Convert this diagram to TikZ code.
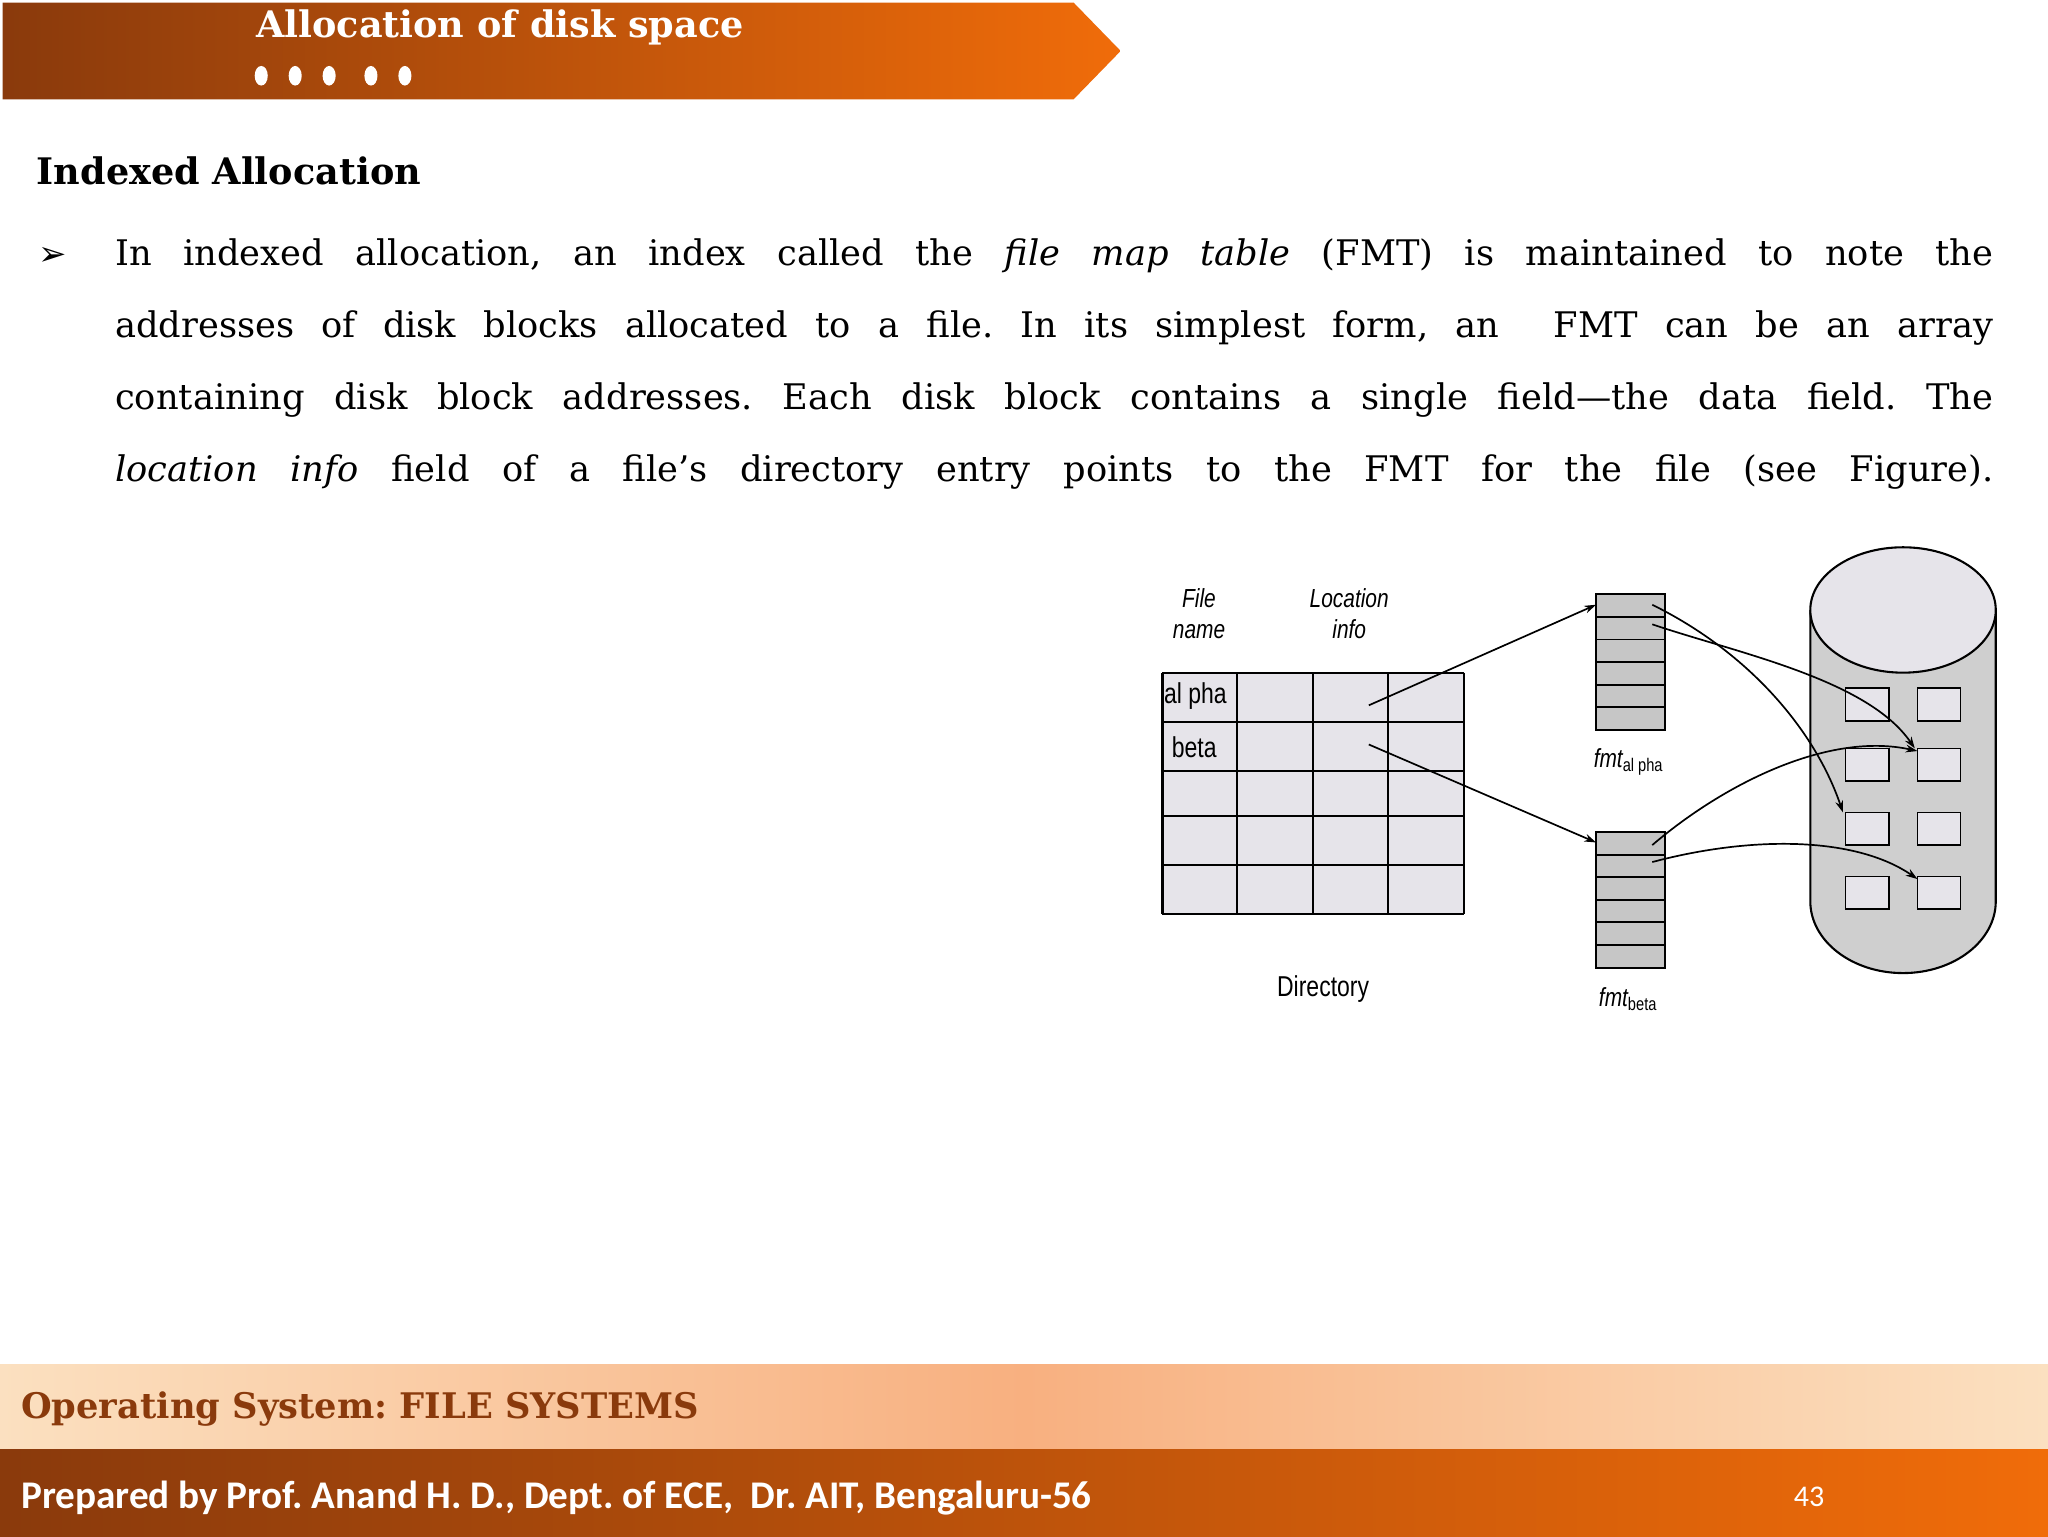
\documentclass[tikz,border=0pt]{standalone}
\usepackage{fontspec}
\setmainfont{DejaVu Serif}
\newfontfamily\calib{Carlito}
\newfontfamily\cond[FakeStretch=0.8]{Liberation Sans}
\newfontfamily\djsans{DejaVu Sans}
\usetikzlibrary{arrows.meta,shapes.geometric}
\definecolor{hdark}{HTML}{8A3A0C}
\definecolor{horange}{HTML}{F06C0A}
\definecolor{tcell}{HTML}{E6E4EA}
\definecolor{fgray}{HTML}{C6C6C6}
\definecolor{dgray}{HTML}{CFCFCF}
\definecolor{fbrown}{HTML}{8A3A0C}
\definecolor{fpeach}{HTML}{F8B080}
\definecolor{fpale}{HTML}{FBE0C0}
\frenchspacing
\tikzset{
 body/.style={anchor=west,inner sep=0,font=\fontsize{27}{30}\selectfont},
 arr/.style={-{Stealth[length=9pt,width=6pt]},line width=1.3pt},
 diag/.style={inner sep=0,font=\cond\fontsize{22}{24}\selectfont},
 diagi/.style={inner sep=0,font=\cond\itshape\fontsize{20}{24}\selectfont},
}
\begin{document}
\begin{tikzpicture}[x=1pt,y=-1pt]
\useasboundingbox (0,0) rectangle (1568,1176);
% header
\shade[left color=hdark,right color=horange] (2,2) -- (822,2) -- (858,39) -- (822,76) -- (2,76) -- cycle;
\node (title) [anchor=west,text=white,inner sep=0,font=\bfseries\fontsize{28}{30}\selectfont] at (196,21) {Allocation of disk space};
\foreach \x [count=\i] in {200,226,252,284,310} \fill[white] (\x,58) ellipse (5 and 7.5);
\node (h) [anchor=west,inner sep=0,font=\bfseries\fontsize{28}{30}\selectfont] at (28,131) {Indexed Allocation};
\node (bul) [anchor=center,inner sep=0,font=\djsans\fontsize{26}{28}\selectfont] at (40,196) {➢};
\node (l1) [body] at (88,196) {\makebox[1438pt][s]{In indexed allocation, an index called the \textit{file map table} (FMT) is maintained to note the}};
\node (l2) [body] at (88,251) {\makebox[1438pt][s]{addresses of disk blocks allocated to a file. In its simplest form, an\ \ FMT can be an array}};
\node (l3) [body] at (88,306) {\makebox[1438pt][s]{containing disk block addresses. Each disk block contains a single field—the data field. The}};
\node (l4) [body] at (88,361) {\makebox[1438pt][s]{\textit{location info} field of a file’s directory entry points to the FMT for the file (see Figure).}};
% directory table
\fill[tcell] (890,515) rectangle (1121,700);
\foreach \x in {890,947,1005,1063,1121} \draw[line width=1.6pt] (\x,515) -- (\x,700);
\foreach \y in {515,553,590,625,662,700} \draw[line width=1.6pt] (890,\y) -- (1121,\y);
\node (fn) [diagi,align=center] at (918,470) {File\\name};
\node (li) [diagi,align=center] at (1033,470) {Location\\info};
\node (ra) [diag,anchor=west] at (891,533) {al pha};
\node (rb) [diag,anchor=west] at (897,572) {beta};
\node (dir) [diag] at (1013,757) {Directory};
\coordinate (pa) at (1048,540);
\coordinate (pb) at (1048,570);
% fmt
\foreach \t/\n in {455/fa,637/fb}{
 \fill[fgray] (1222,\t) rectangle (1275,\t+104);
 \foreach \k in {0,...,6} \draw[line width=1.4pt] (1222,\t+\k*17.3) -- (1275,\t+\k*17.3);
 \draw[line width=1.4pt] (1222,\t) rectangle (1275,\t+104);
 \coordinate (\n) at (1222,\t+8);
}
\node (la) [diagi,anchor=west] at (1220,583) {fmt\textsubscript{\upshape al pha}};
\node (lb) [diagi,anchor=west] at (1224,765) {fmt\textsubscript{\upshape beta}};
% disk
\draw[fill=dgray,line width=1.6pt] (1386,467) -- (1386,690) arc[start angle=180,end angle=0,x radius=71,y radius=55] -- (1528,467);
\draw[fill=tcell,line width=1.6pt] (1457,467) ellipse (71 and 48);
\foreach \c/\x in {0/1413,1/1468}\foreach \r/\y in {1/527,2/573,3/622,4/671}{
 \draw[fill=tcell,line width=1.4pt] (\x,\y) rectangle (\x+33,\y+25);
 \coordinate (b\c\r) at (\x,\y);
}
% arrows
\draw[arr] (pa) -- (fa);
\draw[arr] (pb) -- (fb);
\coordinate (a1) at (1265,463); \coordinate (a2) at (1265,478);
\coordinate (c1) at (1265,647); \coordinate (c2) at (1265,660);
\draw[arr] (a1) .. controls (1340,500) and (1390,560) .. ([xshift=-2]b03);
\draw[arr] (a2) .. controls (1330,500) and (1430,520) .. ([xshift=-2]b12);
\draw[arr] (c1) .. controls (1320,600) and (1400,560) .. ([yshift=-2]b12);
\draw[arr] (c2) .. controls (1340,640) and (1420,640) .. ([yshift=-2]b14);
% footer
\shade[left color=fpale,right color=fpale,middle color=fpeach] (0,1045) rectangle (1568,1110);
\node (ft) [anchor=west,inner sep=0,text=fbrown,font=\bfseries\fontsize{27}{30}\selectfont] at (16,1079) {Operating System: FILE SYSTEMS};
\shade[left color=hdark,right color=horange] (0,1110) rectangle (1568,1176);
\node (pr) [anchor=west,inner sep=0,text=white,font=\calib\bfseries\fontsize{30}{32}\selectfont] at (16,1147) {Prepared by Prof. Anand H. D., Dept. of ECE,\ \ Dr. AIT, Bengaluru-56};
\node (pg) [inner sep=0,text=white,font=\calib\fontsize{23}{26}\selectfont] at (1385,1146) {43};
\end{tikzpicture}
\end{document}
